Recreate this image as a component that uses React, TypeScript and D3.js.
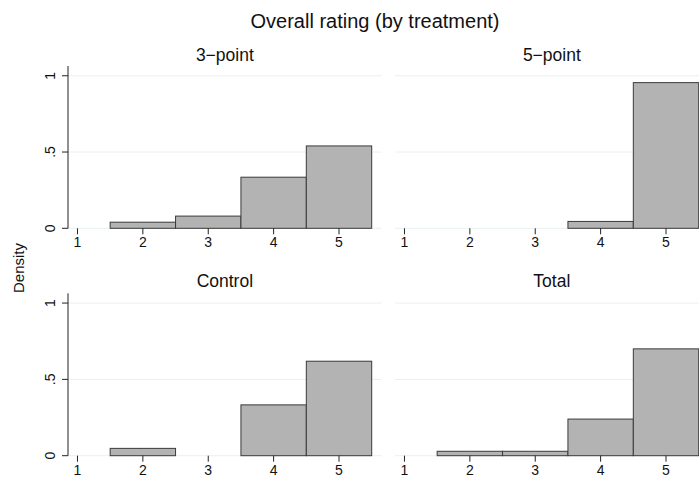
import React from "react"
import * as d3 from "d3"

// histogram data (density per rating)
const categories = [1, 2, 3, 4, 5]
const panelTitles = ["3−point", "5−point", "Control", "Total"]
const threePoint = [0, 0.04, 0.08, 0.335, 0.54]
const fivePoint = [0, 0, 0, 0.045, 0.955]
const control = [0, 0.048, 0, 0.333, 0.619]
const total = [0, 0.029, 0.029, 0.24, 0.7]
const yTicks = [0, 0.5, 1]
const yTickLabels = ["0", ".5", "1"]

const series = [threePoint, fivePoint, control, total]

export default function App() {
  const ref = React.useRef<SVGSVGElement>(null)

  React.useEffect(() => {
    const width = 699
    const height = 477
    const font = "'Liberation Sans', Arial, Helvetica, sans-serif"

    const svg = d3.select(ref.current)
    svg.selectAll("*").remove()
    svg.attr("width", width).attr("height", height)

    svg.append("rect").attr("width", width).attr("height", height).attr("fill", "white")

    // overall title
    svg.append("text")
      .attr("x", 375)
      .attr("y", 28)
      .attr("text-anchor", "middle")
      .attr("font-family", font)
      .attr("font-size", 20)
      .attr("fill", "#111")
      .text("Overall rating (by treatment)")

    // y axis title
    svg.append("text")
      .attr("transform", "translate(24,268) rotate(-90)")
      .attr("text-anchor", "middle")
      .attr("font-family", font)
      .attr("font-size", 15)
      .attr("fill", "#111")
      .text("Density")

    // panel geometry (left, top of plot region, bottom = zero)
    const cols = [68, 395]
    const rows = [
      { top: 66, bottom: 228.3 },
      { top: 293.3, bottom: 455.7 },
    ]
    const plotW = 313.7

    series.forEach((values, i) => {
      const col = i % 2
      const row = Math.floor(i / 2)
      const left = cols[col]
      const { top, bottom } = rows[row]

      const x = d3.scaleLinear().domain([0.855, 5.653]).range([left, left + plotW])
      const y = d3.scaleLinear().domain([0, 1.064]).range([bottom, top])

      const g = svg.append("g")

      // gridlines
      g.selectAll("line.grid")
        .data(yTicks)
        .enter()
        .append("line")
        .attr("x1", left)
        .attr("x2", left + plotW)
        .attr("y1", (d) => y(d))
        .attr("y2", (d) => y(d))
        .attr("stroke", "#e8f0f1")
        .attr("stroke-width", 1)

      // bars
      const bars = categories.map((c, k) => ({ c, v: values[k] })).filter((d) => d.v > 0)
      g.selectAll("rect.bar")
        .data(bars)
        .enter()
        .append("rect")
        .attr("x", (d) => x(d.c - 0.5))
        .attr("y", (d) => y(d.v))
        .attr("width", (d) => x(d.c + 0.5) - x(d.c - 0.5))
        .attr("height", (d) => y(0) - y(d.v))
        .attr("fill", "#b3b3b3")
        .attr("stroke", "#3a3a3a")
        .attr("stroke-width", 1)

      // x ticks + labels
      g.selectAll("line.xtick")
        .data(categories)
        .enter()
        .append("line")
        .attr("x1", (d) => x(d))
        .attr("x2", (d) => x(d))
        .attr("y1", bottom)
        .attr("y2", bottom + 6)
        .attr("stroke", "#222")
        .attr("stroke-width", 1)

      g.selectAll("text.xlab")
        .data(categories)
        .enter()
        .append("text")
        .attr("x", (d) => x(d))
        .attr("y", bottom + 19)
        .attr("text-anchor", "middle")
        .attr("font-family", font)
        .attr("font-size", 14)
        .attr("fill", "#111")
        .text((d) => String(d))

      // y axis only on left column
      if (col === 0) {
        g.append("line")
          .attr("x1", left)
          .attr("x2", left)
          .attr("y1", top)
          .attr("y2", bottom)
          .attr("stroke", "#222")
          .attr("stroke-width", 1)

        g.selectAll("line.ytick")
          .data(yTicks)
          .enter()
          .append("line")
          .attr("x1", left - 6)
          .attr("x2", left)
          .attr("y1", (d) => y(d))
          .attr("y2", (d) => y(d))
          .attr("stroke", "#222")
          .attr("stroke-width", 1)

        g.selectAll("text.ylab")
          .data(yTicks)
          .enter()
          .append("text")
          .attr("transform", (d) => `translate(${left - 13},${y(d)}) rotate(-90)`)
          .attr("text-anchor", "middle")
          .attr("font-family", font)
          .attr("font-size", 14)
          .attr("fill", "#111")
          .text((d, k) => yTickLabels[k])
      }

      // panel title
      g.append("text")
        .attr("x", left + plotW / 2)
        .attr("y", row === 0 ? 60.5 : 286.5)
        .attr("text-anchor", "middle")
        .attr("font-family", font)
        .attr("font-size", 17.5)
        .attr("fill", "#111")
        .text(panelTitles[i])
    })
  }, [])

  return <svg ref={ref} style={{ position: "absolute", left: 0, top: 0, display: "block" }}></svg>
}
